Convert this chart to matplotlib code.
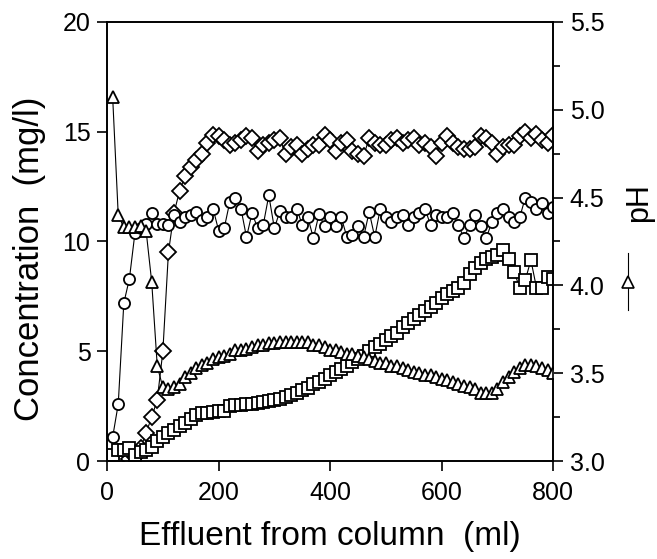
import matplotlib
matplotlib.use("Agg")
import matplotlib.pyplot as plt
from matplotlib.lines import Line2D

plt.rcParams['font.family'] = ['Liberation Sans', 'DejaVu Sans']

volume = list(range(10, 801, 10))

diamond = [0.1, 0.1, 0.1, 0.1, 0.2, 0.6, 1.3, 2.0, 2.8, 5.0,
           9.5, 11.3, 12.3, 13.0, 13.4, 13.7, 14.0, 14.5, 14.85, 14.8,
           14.6, 14.4, 14.5, 14.6, 14.8, 14.7, 14.1, 14.4, 14.5, 14.6,
           14.7, 14.0, 14.3, 14.4, 14.0, 14.2, 14.4, 14.4, 14.85, 14.6,
           14.1, 14.5, 14.6, 14.1, 14.0, 13.9, 14.7, 14.5, 14.4, 14.4,
           14.6, 14.7, 14.5, 14.6, 14.7, 14.4, 14.5, 14.3, 13.9, 14.5,
           14.8, 14.5, 14.3, 14.2, 14.2, 14.3, 14.8, 14.7, 14.5, 14.0,
           14.3, 14.4, 14.4, 14.8, 15.0, 14.7, 14.9, 14.6, 14.5, 14.85]

circle = [1.1, 2.6, 7.2, 8.3, 10.4, 10.6, 10.8, 11.3, 10.8, 10.8,
          10.75, 11.2, 10.9, 11.1, 11.2, 11.35, 11.0, 11.1, 11.5, 10.5,
          10.6, 11.8, 12.0, 11.5, 10.2, 11.3, 10.6, 10.75, 12.1, 10.6,
          11.4, 11.1, 11.1, 11.5, 10.75, 11.1, 10.15, 11.25, 10.7, 11.1,
          10.7, 11.1, 10.2, 10.3, 10.7, 10.2, 11.35, 10.2, 11.5, 11.1,
          10.9, 11.1, 11.2, 10.75, 11.1, 11.3, 11.5, 10.75, 11.2, 11.1,
          11.1, 11.3, 10.75, 10.15, 10.75, 11.2, 10.7, 10.15, 10.9, 11.3,
          11.5, 11.1, 10.9, 11.1, 12.0, 11.8, 11.5, 11.75, 11.3, 11.55]

square = [0.3, 0.5, 0.5, 0.6, 0.3, 0.4, 0.5, 0.64, 0.9, 1.1,
          1.3, 1.4, 1.6, 1.75, 1.9, 2.1, 2.2, 2.2, 2.25, 2.3,
          2.3, 2.5, 2.55, 2.55, 2.6, 2.6, 2.65, 2.7, 2.75, 2.8,
          2.85, 2.9, 3.0, 3.1, 3.25, 3.35, 3.5, 3.6, 3.75, 3.9,
          4.05, 4.2, 4.35, 4.5, 4.65, 4.8, 5.0, 5.2, 5.35, 5.5,
          5.7, 5.85, 6.1, 6.3, 6.45, 6.65, 6.85, 7.0, 7.2, 7.45,
          7.6, 7.75, 7.9, 8.1, 8.5, 8.8, 9.0, 9.2, 9.3, 9.4,
          9.6, 9.2, 8.6, 7.9, 8.25, 9.15, 7.9, 7.9, 8.4, 8.3]

ph = [5.07, 4.40, 4.33, 4.33, 4.33, 4.34, 4.31, 4.02, 3.54, 3.42,
      3.41, 3.42, 3.44, 3.48, 3.50, 3.53, 3.55, 3.56, 3.58, 3.59,
      3.60, 3.61, 3.63, 3.63, 3.64, 3.65, 3.66, 3.66, 3.67, 3.67,
      3.68, 3.68, 3.68, 3.68, 3.68, 3.68, 3.66, 3.66, 3.65, 3.63,
      3.63, 3.62, 3.61, 3.61, 3.60, 3.59, 3.58, 3.57, 3.56, 3.56,
      3.54, 3.54, 3.53, 3.52, 3.51, 3.50, 3.49, 3.49, 3.48, 3.47,
      3.46, 3.45, 3.44, 3.43, 3.42, 3.41, 3.39, 3.39, 3.39, 3.41,
      3.45, 3.48, 3.51, 3.53, 3.55, 3.55, 3.54, 3.53, 3.52, 3.50]

fig = plt.figure(figsize=(6.57, 5.59), dpi=100)
ax = fig.add_axes([0.163, 0.175, 0.679, 0.786])
ax2 = ax.twinx()

style = dict(color='black', lw=0.8, mfc='white', mec='black', mew=1.3)
ax.plot(volume, diamond, marker='D', ms=8.5, **style)
ax.plot(volume, circle, marker='o', ms=8, **style)
ax.plot(volume, square, marker='s', ms=8, **style)
ax2.plot(volume, ph, marker='^', ms=9, **style)

ax.set_xlim(0, 800)
ax.set_ylim(0, 20)
ax2.set_ylim(3.0, 5.5)
ax.set_xticks([0, 200, 400, 600, 800])
ax.set_yticks([0, 5, 10, 15, 20])
ax2.set_yticks([3.0, 3.5, 4.0, 4.5, 5.0, 5.5])
ax2.set_yticks([3.25, 3.75, 4.25, 4.75, 5.25], minor=True)
ax2.set_yticklabels(['3.0', '3.5', '4.0', '4.5', '5.0', '5.5'])

for a in (ax, ax2):
    for s in a.spines.values():
        s.set_linewidth(1.2)
    a.tick_params(direction='out', length=7, width=1.2, labelsize=18, pad=5)
    a.tick_params(which='minor', direction='out', length=5, width=1.2)
ax.tick_params(axis='x', pad=7)

ax.set_xlabel('Effluent from column  (ml)', fontsize=24, labelpad=12)
ax.set_ylabel('Concentration  (mg/l)', fontsize=25)
ax.yaxis.set_label_coords(-0.137, 0.46)

fig.text(0.972, 0.637, 'pH', rotation=90, fontsize=22, ha='center', va='center')
fig.add_artist(Line2D([628 / 657, 628 / 657], [1 - 253 / 559, 1 - 310 / 559],
                      color='black', lw=0.8, transform=fig.transFigure))
fig.add_artist(Line2D([628 / 657], [1 - 282 / 559], marker='^', ms=8,
                      mfc='white', mec='black', mew=1.2, ls='none',
                      transform=fig.transFigure))

fig.savefig('out.png', dpi=100)
